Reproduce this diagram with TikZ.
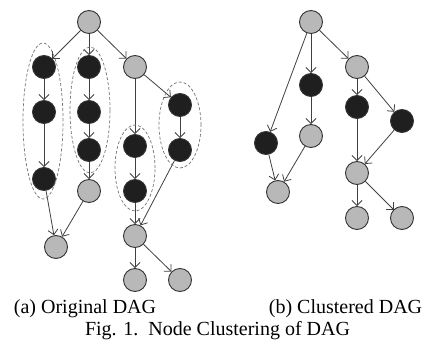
\documentclass[tikz,border=0pt]{standalone}
\usepackage{fontspec}
\setmainfont{Liberation Serif}
\usetikzlibrary{arrows.meta}

\begin{document}
\begin{tikzpicture}[x=1pt, y=-1pt,
        task/.style={draw=black!80, circle, minimum size=23pt, inner sep=0pt, line width=0.9pt},
        light/.style={task, fill=black!28},
        dark/.style={task, fill=black!88},
        dep/.style={-{Straight Barb[length=5pt, width=10pt]}, draw=black!75, line width=0.8pt},
        cluster/.style={draw=black!55, line width=0.7pt, dash pattern=on 3pt off 2pt},
        caption/.style={anchor=base, inner sep=0pt, font=\fontsize{20}{24}\selectfont}]
    \useasboundingbox (0,0) rectangle (424,342);
    % (a) original DAG
    \node[light] (root) at (89,22) {};
    \node[dark] (a1) at (44,67) {};
    \node[dark] (a2) at (44,112) {};
    \node[dark] (a3) at (44,179) {};
    \node[dark] (b1) at (89,67) {};
    \node[dark] (b2) at (89,112) {};
    \node[dark] (b3) at (89,150) {};
    \node[light] (b4) at (89,191) {};
    \node[light] (c) at (135,67) {};
    \node[dark] (c1) at (135,146) {};
    \node[dark] (c2) at (135,191) {};
    \node[dark] (d1) at (180,105) {};
    \node[dark] (d2) at (180,150) {};
    \node[light] (e) at (56,247) {};
    \node[light] (f) at (135,236) {};
    \node[light] (g1) at (135,280) {};
    \node[light] (g2) at (180,280) {};
    \foreach \u/\v in {root/a1, root/b1, root/c, a1/a2, a2/a3, a3/e,
        b1/b2, b2/b3, b3/b4, b4/e, c/c1, c1/c2, c2/f, c/d1, d1/d2, d2/f,
        f/g1, f/g2}
        \draw[dep] (\u) -- (\v);
    % clusters
    \draw[cluster] (43,121) ellipse [x radius=20pt, y radius=78pt];
    \draw[cluster] (90,110) ellipse [x radius=20pt, y radius=63pt];
    \draw[cluster] (135,168) ellipse [x radius=20pt, y radius=43pt];
    \draw[cluster] (180,125) ellipse [x radius=21pt, y radius=43pt];
    % (b) clustered DAG
    \node[light] (croot) at (311,22) {};
    \node[light] (cc) at (357,67) {};
    \node[dark] (cb) at (311,85) {};
    \node[dark] (cc1) at (357,107) {};
    \node[dark] (cd) at (402,121) {};
    \node[dark] (ca) at (266,143) {};
    \node[light] (cbb) at (311,136) {};
    \node[light] (cf) at (357,173) {};
    \node[light] (ce) at (278,192) {};
    \node[light] (cg1) at (357,218) {};
    \node[light] (cg2) at (402,218) {};
    \foreach \u/\v in {croot/ca, croot/cb, croot/cc, cb/cbb, cc/cc1, cc/cd,
        cc1/cf, cd/cf, ca/ce, cbb/ce, cf/cg1, cf/cg2}
        \draw[dep] (\u) -- (\v);
    % captions
    \node[caption] (capa) at (85,314) {(a) Original DAG};
    \node[caption] (capb) at (345.5,314) {(b) Clustered DAG};
    \node[caption] (fig) at (217.5,336) {Fig. 1.\ \ Node Clustering of DAG};
\end{tikzpicture}
\end{document}
